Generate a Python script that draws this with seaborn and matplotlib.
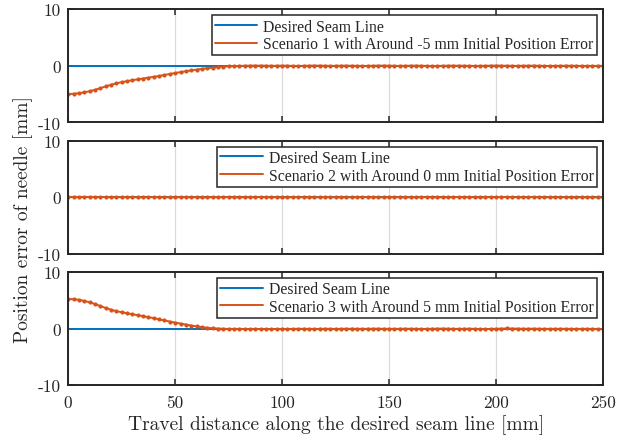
import numpy as np
import pandas as pd
import seaborn as sns
import matplotlib.pyplot as plt

# travel distance samples [mm]
distance = np.arange(0, 250.1, 2.5)

# position error of needle [mm]
scenario1 = [
    -5.00, -4.95, -4.85, -4.70, -4.50, -4.25, -3.95, -3.65, -3.35, -3.10,
    -2.90, -2.72, -2.55, -2.40, -2.25, -2.10, -1.95, -1.80, -1.62, -1.45,
    -1.28, -1.12, -0.97, -0.82, -0.68, -0.55, -0.43, -0.33, -0.24, -0.16,
    -0.10, -0.05, -0.02, 0.00, 0.02, 0.03, 0.02, 0.01, -0.01, 0.00,
    0.02, 0.01, -0.02, -0.03, -0.01, 0.01, 0.03, 0.02, 0.00, -0.02,
    -0.01, 0.01, 0.02, 0.00, -0.01, -0.03, -0.02, 0.00, 0.02, 0.03,
    0.01, -0.01, -0.02, 0.00, 0.01, 0.02, 0.00, -0.02, -0.04, -0.03,
    -0.01, 0.01, 0.02, 0.01, 0.00, -0.01, -0.03, -0.02, 0.00, 0.02,
    0.03, 0.02, 0.00, -0.01, -0.02, 0.00, 0.01, 0.02, 0.00, -0.02,
    -0.03, -0.02, 0.00, 0.01, 0.00, -0.01, -0.02, -0.03, -0.02, -0.01,
    -0.02,
]
scenario2 = [
    0.05, 0.06, 0.05, 0.04, 0.05, 0.03, 0.02, 0.03, 0.01, 0.00,
    0.01, 0.02, 0.00, -0.01, 0.00, 0.01, 0.02, 0.01, -0.01, -0.02,
    -0.01, 0.00, 0.01, 0.00, -0.02, -0.03, -0.02, 0.00, 0.01, 0.02,
    0.01, -0.01, -0.02, -0.01, 0.00, 0.02, 0.03, 0.01, 0.00, -0.02,
    -0.03, -0.01, 0.01, 0.02, 0.00, -0.01, -0.02, 0.00, 0.02, 0.01,
    -0.01, -0.03, -0.02, 0.00, 0.01, 0.03, 0.02, 0.00, -0.02, -0.01,
    0.01, 0.02, 0.00, -0.02, -0.03, -0.01, 0.01, 0.02, 0.01, -0.01,
    -0.02, 0.00, 0.02, 0.04, 0.03, 0.01, -0.01, -0.02, 0.00, 0.02,
    0.03, 0.05, 0.04, 0.02, 0.00, -0.01, 0.01, 0.03, 0.02, 0.00,
    -0.02, -0.01, 0.01, 0.00, -0.02, -0.03, -0.02, -0.01, -0.02, -0.03,
    -0.02,
]
scenario3 = [
    5.25, 5.20, 5.10, 4.90, 4.65, 4.35, 4.00, 3.65, 3.35, 3.10,
    2.90, 2.72, 2.55, 2.38, 2.20, 2.02, 1.85, 1.65, 1.45, 1.25,
    1.07, 0.90, 0.72, 0.55, 0.40, 0.26, 0.15, 0.07, 0.02, -0.02,
    -0.04, -0.05, -0.04, -0.05, -0.06, -0.04, -0.05, -0.06, -0.07, -0.05,
    -0.04, -0.06, -0.05, -0.03, -0.02, -0.04, -0.05, -0.03, -0.02, -0.03,
    -0.04, -0.03, -0.02, -0.01, -0.03, -0.04, -0.02, -0.01, 0.00, -0.02,
    -0.03, -0.04, -0.02, -0.01, -0.02, -0.03, -0.05, -0.04, -0.02, 0.00,
    0.01, -0.01, -0.03, -0.04, -0.02, -0.01, -0.03, -0.05, -0.06, -0.04,
    -0.02, 0.01, 0.03, 0.02, 0.00, -0.02, -0.01, 0.00, -0.02, -0.03,
    -0.04, -0.03, -0.02, -0.03, -0.04, -0.05, -0.04, -0.03, -0.04, -0.05,
    -0.05,
]
desired = [0.0] * len(distance)

labels = [
    "Scenario 1 with Around -5 mm Initial Position Error",
    "Scenario 2 with Around 0 mm Initial Position Error",
    "Scenario 3 with Around 5 mm Initial Position Error",
]
x_ticks = [0, 50, 100, 150, 200, 250]
y_ticks = [-10, 0, 10]

sns.set_theme(style="white")
plt.rcParams["font.family"] = ["Liberation Serif", "DejaVu Serif"]

blue = "#0072BD"
orange = "#D95319"
edge = "#262626"
cm_font = "cmr10"

fig, axes = plt.subplots(3, 1, figsize=(6.43, 4.39), dpi=100)
fig.subplots_adjust(left=0.106, right=0.938, top=0.977, bottom=0.12, hspace=0.16)

for ax, series, label in zip(axes, [scenario1, scenario2, scenario3], labels):
    df = pd.DataFrame({"x": distance, "desired": desired, "y": series})
    sns.lineplot(data=df, x="x", y="desired", ax=ax, color=blue, lw=1.4,
                 label="Desired Seam Line")
    sns.lineplot(data=df, x="x", y="y", ax=ax, color=orange, lw=1.4,
                 marker="o", markersize=3, markeredgewidth=0,
                 label=label)
    ax.set_xlim(0, 250)
    ax.set_ylim(-10, 10)
    ax.set_xticks(x_ticks)
    ax.set_yticks(y_ticks)
    ax.set_yticklabels([str(v) for v in y_ticks], fontsize=12.5, color=edge,
                       family=cm_font)
    ax.set_xlabel("")
    ax.set_ylabel("")
    ax.grid(axis="x", color="#dcdcdc", lw=0.9)
    ax.tick_params(direction="in", length=4, width=1.1, color=edge,
                   top=True, right=True, bottom=True, left=True, pad=5)
    ax.tick_params(axis="x", pad=7)
    for s in ax.spines.values():
        s.set_color(edge)
        s.set_linewidth(1.4)
    leg = ax.legend(loc="upper right", fontsize=11.3, frameon=True, fancybox=False,
                    framealpha=1, borderpad=0.2, labelspacing=0.1, handlelength=2.7,
                    handletextpad=0.4, borderaxespad=0.4)
    leg.get_frame().set_edgecolor(edge)
    leg.get_frame().set_linewidth(1.1)
    for h in leg.legend_handles:
        h.set_marker("")
    for t in leg.get_texts():
        t.set_color(edge)

for ax in axes[:2]:
    ax.set_xticklabels([])
axes[2].set_xticklabels([str(v) for v in x_ticks], fontsize=12.5, color=edge,
                        family=cm_font)
axes[2].set_xlabel("Travel distance along the desired seam line [mm]",
                   fontsize=14, color=edge, labelpad=3, family=cm_font)
fig.text(0.036, 0.5, "Position error of needle [mm]", rotation=90,
         ha="center", va="center", fontsize=14, color=edge, family=cm_font)

fig.savefig("out.png", dpi=100)
